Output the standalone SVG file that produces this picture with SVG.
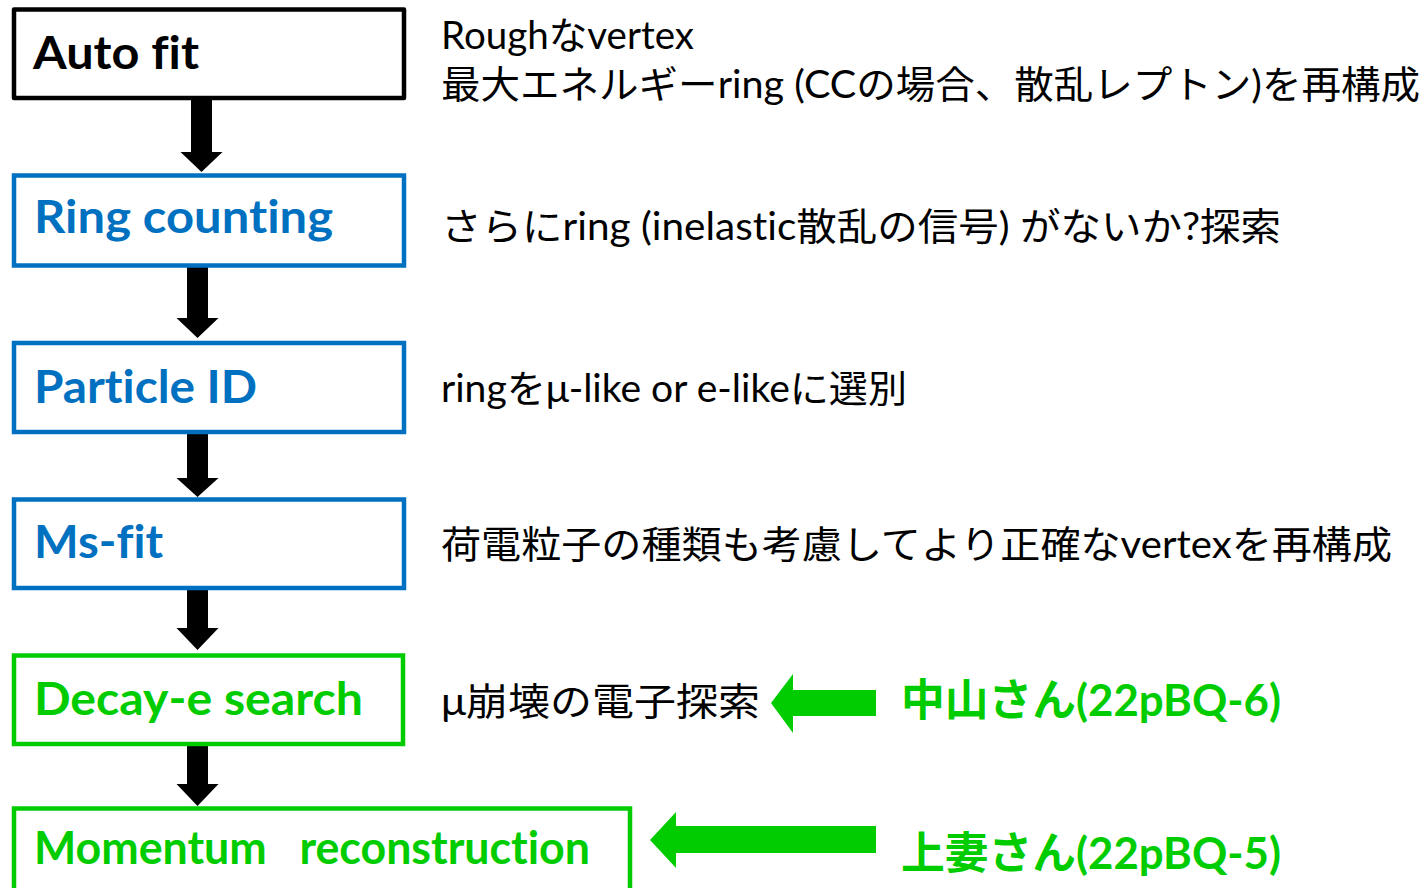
<svg xmlns="http://www.w3.org/2000/svg" width="1426" height="888" viewBox="0 0 1426 888">
  <style>
    .box { fill: #ffffff; stroke-width: 4.5; }
    .k { stroke: #000000; stroke-linejoin: round; }
    .b { stroke: #0070C0; }
    .g { stroke: #00CC00; }
    text { font-variant-ligatures: none; font-feature-settings: "liga" 0; }
    .lbl { font-family: Lato, "Noto Sans CJK JP", sans-serif; font-weight: bold; font-size: 45px; }
    .desc { font-family: Lato, "Noto Sans CJK JP", sans-serif; font-size: 38px; fill: #000000; }
    .who { font-family: Lato, "Noto Sans CJK JP", sans-serif; font-weight: bold; font-size: 44px; fill: #00CC00; }
    .arr { fill: #000000; }
    .garr { fill: #00CC00; }
  </style>
  <rect width="1426" height="888" fill="#ffffff"/>

  <g id="connectors">
    <polygon class="arr" points="191,100 212,100 212,152 222.5,152 201.5,172 180.5,152 191,152"/>
    <polygon class="arr" points="187,267 208,267 208,318 218.5,318 197.5,338 176.5,318 187,318"/>
    <polygon class="arr" points="187,434 208,434 208,478 218.5,478 197.5,497 176.5,478 187,478"/>
    <polygon class="arr" points="187,590 208,590 208,628 218.5,628 197.5,650 176.5,628 187,628"/>
    <polygon class="arr" points="187,746 208,746 208,784 218.5,784 197.5,806 176.5,784 187,784"/>
    <polygon class="garr" points="876,690 793,690 793,674 771,703 793,733 793,716 876,716"/>
    <polygon class="garr" points="876,826 676,826 676,812 650,840 676,868 676,853 876,853"/>
  </g>

  <g id="node-autofit">
    <rect class="box k" x="14" y="9.5" width="390" height="88.5"/>
    <text class="lbl" x="33" y="69" fill="#000000" font-size="47" textLength="166" lengthAdjust="spacingAndGlyphs">Auto fit</text>
  </g>
  <g id="node-ringcounting">
    <rect class="box b" x="14" y="175.5" width="390" height="90"/>
    <text class="lbl" x="34" y="233" fill="#0070C0" textLength="299" lengthAdjust="spacingAndGlyphs">Ring counting</text>
  </g>
  <g id="node-particleid">
    <rect class="box b" x="14" y="343" width="390" height="89"/>
    <text class="lbl" x="34" y="403" fill="#0070C0" textLength="223" lengthAdjust="spacingAndGlyphs">Particle ID</text>
  </g>
  <g id="node-msfit">
    <rect class="box b" x="14" y="499.5" width="390" height="88.5"/>
    <text class="lbl" x="34" y="558" fill="#0070C0" textLength="129" lengthAdjust="spacingAndGlyphs">Ms-fit</text>
  </g>
  <g id="node-decay">
    <rect class="box g" x="14" y="655.5" width="389" height="88.5"/>
    <text class="lbl" x="34" y="715" fill="#00CC00" textLength="329" lengthAdjust="spacingAndGlyphs">Decay-e search</text>
  </g>
  <g id="node-momentum">
    <rect class="box g" x="14" y="808.5" width="616" height="92"/>
    <text class="lbl" x="34" y="864" fill="#00CC00" textLength="556" lengthAdjust="spacingAndGlyphs" xml:space="preserve">Momentum   reconstruction</text>
  </g>

  <g id="descriptions">
    <text class="desc" x="441" y="49" textLength="253" lengthAdjust="spacingAndGlyphs">Roughなvertex</text>
    <text class="desc" x="441" y="98" textLength="979" lengthAdjust="spacingAndGlyphs">最大エネルギーring (CCの場合、散乱レプトン)を再構成</text>
    <text class="desc" x="441" y="240" textLength="840" lengthAdjust="spacingAndGlyphs">さらにring (inelastic散乱の信号) がないか?探索</text>
    <text class="desc" x="441" y="402" textLength="466" lengthAdjust="spacingAndGlyphs">ringをμ-like or e-likeに選別</text>
    <text class="desc" x="441" y="558" textLength="951" lengthAdjust="spacingAndGlyphs">荷電粒子の種類も考慮してより正確なvertexを再構成</text>
    <text class="desc" x="441" y="715" textLength="319" lengthAdjust="spacingAndGlyphs">μ崩壊の電子探索</text>
  </g>

  <g id="presenters">
    <text class="who" x="901" y="716" textLength="380" lengthAdjust="spacingAndGlyphs">中山さん(22pBQ-6)</text>
    <text class="who" x="901" y="869" textLength="380" lengthAdjust="spacingAndGlyphs">上妻さん(22pBQ-5)</text>
  </g>
</svg>
